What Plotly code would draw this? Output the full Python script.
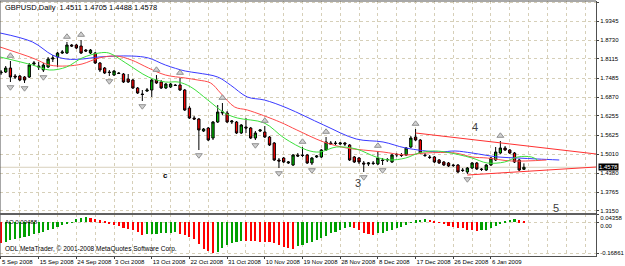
import plotly.graph_objects as go

# ---------------- data (bar index = trading bar, incl. Sunday bars) ----------------
date_labels = ['5 Sep 2008', '15 Sep 2008', '24 Sep 2008', '3 Oct 2008', '13 Oct 2008',
               '22 Oct 2008', '31 Oct 2008', '10 Nov 2008', '19 Nov 2008', '28 Nov 2008',
               '8 Dec 2008', '17 Dec 2008', '26 Dec 2008', '6 Jan 2009']
date_label_bars = [0, 8, 16, 24, 32, 40, 48, 56, 64, 72, 80, 88, 96, 104]

opens = [1.7656, 1.7689, 1.7819, 1.7558, 1.7558, 1.7525, 1.7525, 1.7950, 1.7885, 1.7754,
         1.7852, 1.8113, 1.8179, 1.8309, 1.8309, 1.8571, 1.8571, 1.8538, 1.8407, 1.8309,
         1.8309, 1.7983, 1.7819, 1.7689, 1.7591, 1.7656, 1.7623, 1.7460, 1.7427, 1.7166,
         1.6970, 1.7068, 1.7101, 1.7427, 1.7362, 1.7166, 1.7199, 1.7264, 1.7264, 1.7101,
         1.6513, 1.6186, 1.6154, 1.5762, 1.5860, 1.5533, 1.6056, 1.6350, 1.6350, 1.6056,
         1.6056, 1.5697, 1.5893, 1.5860, 1.5533, 1.5762, 1.5729, 1.5566, 1.5370, 1.4815,
         1.4880, 1.4717, 1.4651, 1.4978, 1.4978, 1.4978, 1.4717, 1.4913, 1.4913, 1.5141,
         1.5370, 1.5370, 1.5337, 1.5370, 1.5305, 1.4913, 1.4880, 1.4717, 1.4684, 1.4717,
         1.4684, 1.4815, 1.4815, 1.4749, 1.4978, 1.4978, 1.4978, 1.5239, 1.5566, 1.5468,
         1.4978, 1.4913, 1.4913, 1.4815, 1.4749, 1.4717, 1.4651, 1.4651, 1.4488, 1.4423,
         1.4553, 1.4717, 1.4521, 1.4488, 1.4651, 1.4815, 1.5043, 1.5207, 1.5141, 1.5043,
         1.4815, 1.4511]
highs = [1.7754, 1.7885, 1.8048, 1.7623, 1.7591, 1.7558, 1.7983, 1.8048, 1.8015, 1.7983,
         1.8179, 1.8244, 1.8342, 1.8407, 1.8669, 1.8603, 1.8603, 1.8734, 1.8440, 1.8440,
         1.8342, 1.8015, 1.7852, 1.7754, 1.7754, 1.7689, 1.7656, 1.7623, 1.7460, 1.7199,
         1.7101, 1.7166, 1.7460, 1.7591, 1.7427, 1.7330, 1.7330, 1.7297, 1.7493, 1.7134,
         1.6578, 1.6252, 1.6186, 1.5860, 1.5893, 1.6088, 1.6611, 1.6676, 1.6415, 1.6121,
         1.6088, 1.5990, 1.6186, 1.5893, 1.5762, 1.5827, 1.5925, 1.5599, 1.5403, 1.4880,
         1.4913, 1.4782, 1.5011, 1.5043, 1.5239, 1.5011, 1.4913, 1.4978, 1.5174, 1.5566,
         1.5435, 1.5435, 1.5403, 1.5403, 1.5337, 1.4945, 1.4913, 1.4782, 1.4749, 1.4782,
         1.5109, 1.4880, 1.4880, 1.5011, 1.5043, 1.5043, 1.5239, 1.5599, 1.5827, 1.5501,
         1.5043, 1.4978, 1.4945, 1.4847, 1.4782, 1.4749, 1.4684, 1.4684, 1.4553, 1.4586,
         1.4749, 1.4749, 1.4553, 1.4684, 1.4913, 1.5239, 1.5435, 1.5272, 1.5174, 1.5076,
         1.4847, 1.4705]
lows = [1.7591, 1.7656, 1.7362, 1.7460, 1.7395, 1.7330, 1.7493, 1.7885, 1.7754, 1.7689,
        1.7819, 1.8015, 1.7852, 1.8277, 1.8277, 1.8505, 1.8440, 1.8277, 1.8342, 1.8277,
        1.7950, 1.7689, 1.7623, 1.7558, 1.7558, 1.7623, 1.7330, 1.7330, 1.7134, 1.6970,
        1.6742, 1.7036, 1.6872, 1.7297, 1.7134, 1.7134, 1.7166, 1.7232, 1.7068, 1.6415,
        1.6154, 1.6121, 1.5141, 1.5729, 1.5435, 1.5468, 1.6023, 1.6284, 1.6023, 1.5990,
        1.5664, 1.5664, 1.5697, 1.5501, 1.5468, 1.5729, 1.5533, 1.5272, 1.4782, 1.4553,
        1.4717, 1.4684, 1.4619, 1.4913, 1.4913, 1.4684, 1.4651, 1.4880, 1.4880, 1.5109,
        1.5305, 1.5305, 1.5305, 1.5272, 1.4782, 1.4717, 1.4684, 1.4423, 1.4619, 1.4651,
        1.4651, 1.4651, 1.4749, 1.4717, 1.4913, 1.4913, 1.4945, 1.5207, 1.5435, 1.5011,
        1.4913, 1.4847, 1.4717, 1.4684, 1.4619, 1.4586, 1.4586, 1.4390, 1.4423, 1.4357,
        1.4521, 1.4488, 1.4455, 1.4455, 1.4619, 1.4782, 1.5011, 1.5109, 1.5011, 1.4717,
        1.4455, 1.4488]
closes = [1.7689, 1.7819, 1.7525, 1.7525, 1.7427, 1.7427, 1.7917, 1.7983, 1.7852, 1.7917,
          1.8113, 1.8146, 1.8309, 1.8342, 1.8571, 1.8538, 1.8473, 1.8309, 1.8375, 1.8407,
          1.7983, 1.7754, 1.7656, 1.7672, 1.7721, 1.7640, 1.7362, 1.7362, 1.7166, 1.7003,
          1.6954, 1.7101, 1.7427, 1.7330, 1.7166, 1.7297, 1.7297, 1.7248, 1.7101, 1.6448,
          1.6186, 1.6154, 1.5795, 1.5827, 1.5468, 1.6056, 1.6382, 1.6382, 1.6056, 1.6088,
          1.5697, 1.5958, 1.5860, 1.5533, 1.5697, 1.5795, 1.5566, 1.5305, 1.4815, 1.4782,
          1.4749, 1.4749, 1.4978, 1.4945, 1.4962, 1.4717, 1.4880, 1.4945, 1.5141, 1.5403,
          1.5337, 1.5354, 1.5370, 1.5337, 1.4815, 1.4749, 1.4749, 1.4684, 1.4717, 1.4700,
          1.4880, 1.4798, 1.4831, 1.4978, 1.4994, 1.4962, 1.5207, 1.5533, 1.5468, 1.5043,
          1.4962, 1.4896, 1.4749, 1.4717, 1.4651, 1.4619, 1.4635, 1.4423, 1.4472, 1.4553,
          1.4717, 1.4521, 1.4505, 1.4651, 1.4880, 1.5076, 1.5207, 1.5141, 1.5043, 1.4749,
          1.4488, 1.4578]

# Bill Williams fractals (bar indices)
fractal_up_bars = [2, 14, 17, 33, 38, 47, 56, 64, 69, 80, 88, 106]
fractal_down_bars = [2, 5, 9, 23, 30, 42, 54, 59, 66, 77, 81, 99]

# Alligator lines (bar position, price)
jaw_bars = [-0.2, 6.7, 10.9, 13.9, 17.2, 20.8, 27.7, 31.3, 34.9, 39.1, 41.8, 46, 48.7, 52.3,
            55.9, 60.7, 68.5, 75.4, 81.1, 85.9, 92.9, 96.4, 100, 105.5, 109.7, 113.9, 118.5]
jaw_vals = [1.8963, 1.8669, 1.8244, 1.8113, 1.8113, 1.8179, 1.8211, 1.8146, 1.7917, 1.7721,
            1.7656, 1.7525, 1.7264, 1.6872, 1.6774, 1.6513, 1.5958, 1.5501, 1.5403, 1.5207,
            1.5076, 1.5109, 1.5043, 1.4913, 1.4880, 1.4847, 1.4815]
teeth_bars = [-0.2, 6.7, 10.3, 13.9, 17.2, 20.8, 24.4, 27.7, 31.3, 34.9, 39.1, 41.8, 44.5,
              46.6, 49.6, 52.3, 59.2, 62.8, 68.5, 73.3, 76.9, 81.1, 85.9, 90.1, 96.4, 100,
              103.2, 108.4, 115.8]
teeth_vals = [1.8505, 1.8146, 1.7917, 1.7885, 1.7950, 1.8146, 1.8211, 1.8081, 1.7819, 1.7591,
              1.7493, 1.7427, 1.7330, 1.7003, 1.6546, 1.6448, 1.6056, 1.5795, 1.5403, 1.5207,
              1.5141, 1.5076, 1.4978, 1.5043, 1.5043, 1.4913, 1.4880, 1.4782, 1.4815]
lips_bars = [-0.2, 6.7, 10.3, 13.9, 17.2, 20.8, 22.9, 26.5, 31.3, 34.9, 37.6, 40.3, 43.9,
             47.5, 50.2, 55.9, 60.1, 64.9, 67.6, 71.2, 75.4, 79.6, 82.4, 85.9, 88.7, 91.6,
             94.3, 100, 103.2, 106.9, 109.7, 112.6, 113.9]
lips_vals = [1.8179, 1.7917, 1.7754, 1.7852, 1.8146, 1.8309, 1.8309, 1.7983, 1.7525, 1.7362,
             1.7362, 1.7199, 1.6774, 1.6350, 1.6186, 1.6023, 1.5533, 1.5141, 1.5076, 1.5239,
             1.5174, 1.4913, 1.4815, 1.4880, 1.5043, 1.5109, 1.5076, 1.4880, 1.4717, 1.4749,
             1.4913, 1.4913, 1.4815]

# Trend lines (bar, price) pairs
trend_upper = [(88, 1.5697), (126.3, 1.5011)]
trend_lower = [(99, 1.4325), (126.3, 1.4586)]

# Awesome Oscillator values per bar
ao_vals = [-0.1117, -0.1064, -0.0974, -0.0942, -0.0851, -0.0798, -0.0745, -0.0676, -0.0622, -0.0532,
           -0.0442, -0.0356, -0.0266, -0.0176, -0.0090, -0.0027, 0.0176, 0.0229, 0.0266, 0.0229,
           0.0176, 0.0090, 0.0037, -0.0122, -0.0176, -0.0229, -0.0303, -0.0356, -0.0442, -0.0532,
           -0.0680, -0.0660, -0.0640, -0.0630, -0.0610, -0.0600, -0.0580, -0.0570, -0.0640, -0.0720,
           -0.0820, -0.0900, -0.1200, -0.1450, -0.1600, -0.1686, -0.1650, -0.1420, -0.1240, -0.1150,
           -0.1060, -0.1010, -0.1020, -0.1030, -0.1050, -0.1060, -0.1070, -0.1080, -0.1120, -0.1250,
           -0.1350, -0.1420, -0.1470, -0.1330, -0.1240, -0.1150, -0.1060, -0.0975, -0.0887, -0.0745,
           -0.0620, -0.0530, -0.0410, -0.0300, -0.0280, -0.0310, -0.0440, -0.0620, -0.0670, -0.0710,
           -0.0620, -0.0580, -0.0510, -0.0430, -0.0350, -0.0270, -0.0180, -0.0040, 0.0090, 0.0120,
           0.0140, 0.0120, 0.0050, -0.0050, -0.0120, -0.0230, -0.0270, -0.0300, -0.0350, -0.0410,
           -0.0440, -0.0480, -0.0440, -0.0410, -0.0350, -0.0230, -0.0120, 0.0050, 0.0120, 0.0140,
           0.0090, 0.0020]

price_ticks = [1.9975, 1.9345, 1.8730, 1.8115, 1.7485, 1.6870, 1.6255, 1.5625, 1.5010, 1.4380,
               1.3765, 1.3150]
ao_ticks = [0.04358, 0.0, -0.16861]
ao_tick_text = ['<br>0.04358', '<br>0.00', '-0.16861']

annotations_text = [('c', 34.9, 1.4325, True, 8), ('3', 75.8, 1.4064, False, 11),
                    ('4', 100.6, 1.5893, False, 11), ('5', 117.9, 1.3247, False, 11)]

# ---------------- figure ----------------
FONT = 'Liberation Sans'
GRID = '#d6cfb8'
n = len(closes)
bars = list(range(n))

fig = go.Figure()

fig.add_trace(go.Candlestick(
    x=bars, open=opens, high=highs, low=lows, close=closes,
    increasing=dict(line=dict(color='#000000', width=1), fillcolor='#00c000'),
    decreasing=dict(line=dict(color='#000000', width=1), fillcolor='#ff0000'),
    whiskerwidth=0, showlegend=False, xaxis='x', yaxis='y', hoverinfo='skip'))

fig.add_trace(go.Scatter(x=jaw_bars, y=jaw_vals, mode='lines', line=dict(color='#3a3aff', width=1, shape='spline'),
                         showlegend=False, hoverinfo='skip'))
fig.add_trace(go.Scatter(x=teeth_bars, y=teeth_vals, mode='lines', line=dict(color='#ff4a4a', width=1, shape='spline'),
                         showlegend=False, hoverinfo='skip'))
fig.add_trace(go.Scatter(x=lips_bars, y=lips_vals, mode='lines', line=dict(color='#3ce03c', width=1, shape='spline'),
                         showlegend=False, hoverinfo='skip'))

pad = 0.017
fig.add_trace(go.Scatter(x=fractal_up_bars, y=[highs[i] + pad for i in fractal_up_bars], mode='markers',
                         marker=dict(symbol='triangle-up', size=6, color='#d0d0d0', line=dict(color='#909090', width=1)),
                         showlegend=False, hoverinfo='skip'))
fig.add_trace(go.Scatter(x=fractal_down_bars, y=[lows[i] - pad for i in fractal_down_bars], mode='markers',
                         marker=dict(symbol='triangle-down', size=6, color='#d0d0d0', line=dict(color='#909090', width=1)),
                         showlegend=False, hoverinfo='skip'))

for tl in (trend_upper, trend_lower):
    fig.add_trace(go.Scatter(x=[p[0] for p in tl], y=[p[1] for p in tl], mode='lines',
                             line=dict(color='#ff3030', width=1), showlegend=False, hoverinfo='skip'))

# AO histogram
ao_colors = ['#00a000' if (i > 0 and ao_vals[i] >= ao_vals[i - 1]) else '#ff0000' for i in range(n)]
fig.add_trace(go.Bar(x=bars, y=ao_vals, marker=dict(color=ao_colors, line=dict(width=0)), width=0.45,
                     xaxis='x', yaxis='y2', showlegend=False, hoverinfo='skip'))

main_bottom = 0.1647
fig.update_layout(
    width=625, height=266, margin=dict(l=0, r=23, t=1, b=10),
    paper_bgcolor='white', plot_bgcolor='white', bargap=0,
    font=dict(family=FONT, size=6, color='#000000'),
    xaxis=dict(range=[-0.21, 126.3], anchor='y2', tickmode='array', tickvals=date_label_bars,
               ticktext=date_labels, ticklabelposition='outside right', ticks='outside', ticklen=2,
               tickangle=0, tickcolor='#404040', tickfont=dict(size=6, family=FONT),
               rangeslider=dict(visible=False),
               showgrid=True, gridcolor=GRID, griddash='dot', gridwidth=1, zeroline=False,
               showline=True, linecolor='#505050', linewidth=1,
               minor=dict(tickmode='linear', tick0=0, dtick=4, showgrid=True, gridcolor=GRID, griddash='dot')),
    yaxis=dict(domain=[main_bottom, 1], range=[1.3051, 2.0008], side='right', tickmode='array',
               tickvals=price_ticks, ticktext=['%.4f' % v for v in price_ticks], ticks='outside', ticklen=2,
               tickcolor='#404040', tickfont=dict(size=6, family=FONT), showgrid=True, gridcolor=GRID,
               griddash='dot', zeroline=False, showline=True, linecolor='#505050', linewidth=1, anchor='x'),
    yaxis2=dict(domain=[0, main_bottom], range=[-0.1849, 0.0436], side='right', tickmode='array',
                tickvals=ao_ticks, ticktext=ao_tick_text, ticks='outside', ticklen=2, tickcolor='#404040',
                tickfont=dict(size=6, family=FONT), showgrid=True, gridcolor=GRID, griddash='dot',
                zeroline=False, showline=True, linecolor='#505050', linewidth=1, anchor='x'),
)

shapes = [
    dict(type='line', xref='paper', yref='paper', x0=0, x1=1, y0=1, y1=1, line=dict(color='#505050', width=1)),
    dict(type='line', xref='paper', yref='paper', x0=0, x1=0, y0=0, y1=1, line=dict(color='#505050', width=1)),
    dict(type='line', xref='paper', yref='paper', x0=0, x1=1, y0=main_bottom, y1=main_bottom,
         line=dict(color='#606060', width=2)),
    dict(type='line', xref='paper', yref='y', x0=0, x1=1, y0=closes[-1], y1=closes[-1],
         line=dict(color='#d8d0bc', width=1), layer='below'),
]
fig.update_layout(shapes=shapes)

ann = [
    dict(xref='paper', yref='paper', x=0.005, y=1, xanchor='left', yanchor='top', showarrow=False,
         text='GBPUSD,Daily  %.4f %.4f %.4f %.4f' % (opens[-1], highs[-1], lows[-1], closes[-1]),
         font=dict(size=7.5, family=FONT, color='#000000')),
    dict(xref='paper', yref='paper', x=0.005, y=main_bottom - 0.012, xanchor='left', yanchor='top', showarrow=False,
         text='AO 0.00488', font=dict(size=6, family=FONT), bgcolor='rgba(255,255,255,0)'),
    dict(xref='paper', yref='paper', x=0.005, y=0.005, xanchor='left', yanchor='bottom', showarrow=False,
         text='ODL MetaTrader, \u00a9 2001-2008 MetaQuotes Software Corp.', font=dict(size=6.5, family=FONT)),
    dict(xref='paper', yref='y', x=1, y=closes[-1], xanchor='left', yanchor='middle', showarrow=False,
         text='%.4f' % closes[-1], bgcolor='#000000', font=dict(size=6, family=FONT, color='#ffffff'),
         borderpad=0, xshift=2),
]
for t, bx, py, bold, sz in annotations_text:
    ann.append(dict(xref='x', yref='y', x=bx, y=py, showarrow=False,
                    text=('<b>%s</b>' % t) if bold else t,
                    font=dict(size=sz, family=FONT, color='#000000' if bold else '#404040')))
fig.update_layout(annotations=ann)

fig.write_html('out.html')
